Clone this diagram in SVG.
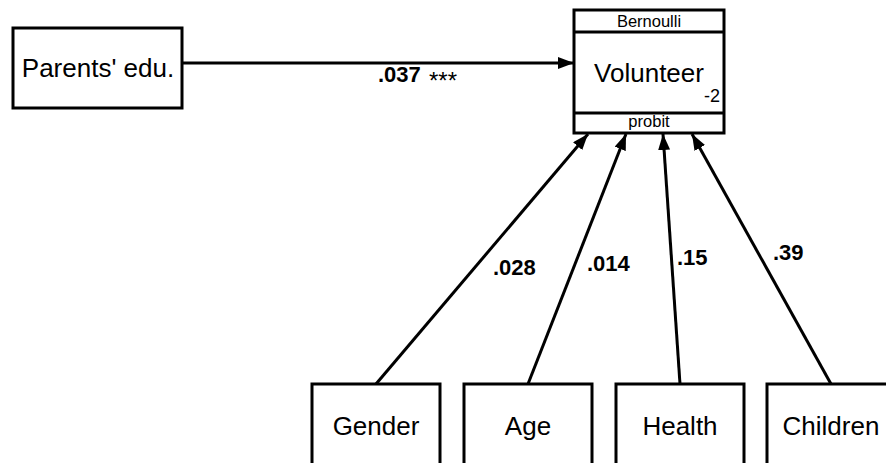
<svg xmlns="http://www.w3.org/2000/svg" width="886" height="463" viewBox="0 0 886 463">
<style>
.box{fill:#fff;stroke:#000;stroke-width:3}
.div{stroke:#000;stroke-width:3}
.lbl{font-family:"Liberation Sans",Arial,sans-serif;font-size:26px;fill:#000;text-anchor:middle}
.small{font-family:"Liberation Sans",Arial,sans-serif;font-size:16.5px;fill:#000}
.coef{font-family:"Liberation Sans",Arial,sans-serif;font-size:22px;font-weight:bold;fill:#000}
.star{font-family:"Liberation Sans",Arial,sans-serif;font-size:24px;fill:#000}
.edge{stroke:#000;stroke-width:3;fill:none;marker-end:url(#ah)}
</style>
<defs>
<marker id="ah" markerUnits="userSpaceOnUse" markerWidth="17" markerHeight="13" refX="16" refY="6" orient="auto">
<path d="M0,0 L16,6 L0,12 z" fill="#000"/>
</marker>
</defs>
<rect width="886" height="463" fill="#fff"/>
<g id="connectors">
<line class="edge" x1="182" y1="63" x2="574" y2="63"/>
<line class="edge" x1="376" y1="384" x2="588" y2="134"/>
<line class="edge" x1="528" y1="384" x2="626" y2="134"/>
<line class="edge" x1="680" y1="384" x2="663" y2="134"/>
<line class="edge" x1="831" y1="384" x2="692" y2="134"/>
<text class="coef" x="378" y="82">.037</text>
<text class="star" x="429" y="89">***</text>
<text class="coef" x="493" y="275">.028</text>
<text class="coef" x="587" y="271">.014</text>
<text class="coef" x="677" y="265">.15</text>
<text class="coef" x="773" y="260">.39</text>
</g>
<g id="parents">
<rect class="box" x="13" y="28" width="169" height="80"/>
<text class="lbl" x="98" y="77">Parents' edu.</text>
</g>
<g id="volunteer">
<rect class="box" x="574" y="10" width="150" height="123"/>
<line class="div" x1="574" y1="32" x2="724" y2="32"/>
<line class="div" x1="574" y1="113" x2="724" y2="113"/>
<text class="small" x="649" y="27" text-anchor="middle">Bernoulli</text>
<text class="lbl" x="649" y="82">Volunteer</text>
<text class="small" x="704" y="102" style="font-size:18px">-2</text>
<text class="small" x="649" y="127" text-anchor="middle">probit</text>
</g>
<g id="gender">
<rect class="box" x="312" y="384" width="128" height="100"/>
<text class="lbl" x="376" y="435">Gender</text>
</g>
<g id="age">
<rect class="box" x="464" y="384" width="128" height="100"/>
<text class="lbl" x="528" y="435">Age</text>
</g>
<g id="health">
<rect class="box" x="616" y="384" width="128" height="100"/>
<text class="lbl" x="680" y="435">Health</text>
</g>
<g id="children">
<rect class="box" x="767" y="384" width="128" height="100"/>
<text class="lbl" x="831" y="435">Children</text>
</g>
</svg>
